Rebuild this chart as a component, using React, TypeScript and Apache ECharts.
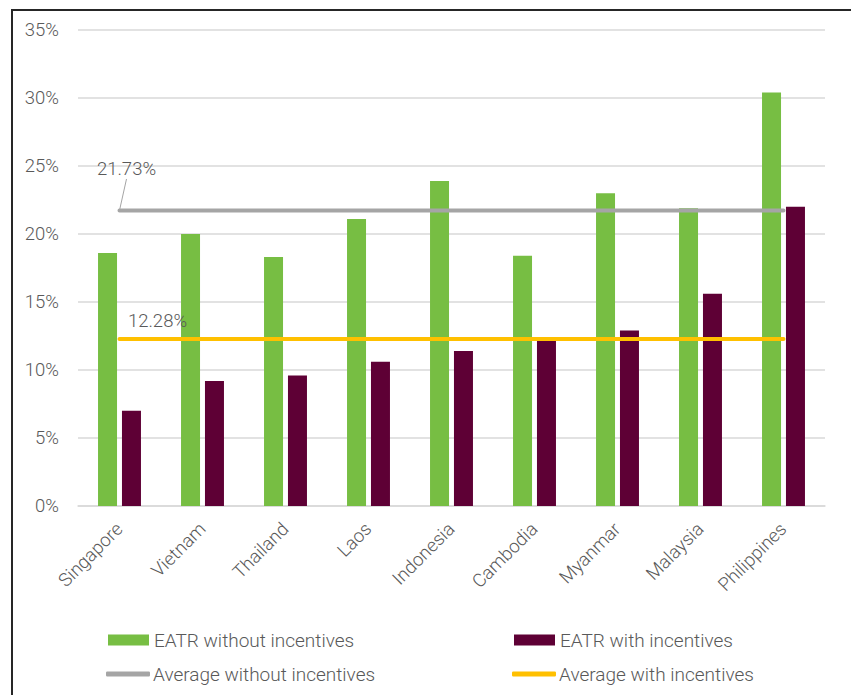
import React, { useEffect, useRef } from "react";
import * as echarts from "echarts";

const categories = ["Singapore", "Vietnam", "Thailand", "Laos", "Indonesia", "Cambodia", "Myanmar", "Malaysia", "Philippines"];
const eatrWithout = [18.6, 20.0, 18.3, 21.1, 23.9, 18.4, 23.0, 21.9, 30.4];
const eatrWith = [7.0, 9.2, 9.6, 10.6, 11.4, 12.2, 12.9, 15.6, 22.0];
const avgWithout = 21.73;
const avgWith = 12.28;
const yTicks = { min: 0, max: 35, interval: 5 };

const TXT = "#595959";
const FONT = "Roboto";
const FS = 18.5;
const FW = 300;

export default function App() {
  const ref = useRef<HTMLDivElement>(null);
  useEffect(() => {
    document.body.style.margin = "0";
    const chart = echarts.init(ref.current!, null, { renderer: "svg" });
    const avgLine = (name: string, v: number, color: string, layout: any, labelLine: boolean) => ({
      name,
      type: "line",
      data: categories.map((_, i) =>
        i === 0
          ? { value: v, label: { show: true, formatter: `${v.toFixed(2)}%` } }
          : v
      ),
      symbol: "circle",
      symbolSize: 1,
      z: 5,
      lineStyle: { color, width: 4, cap: "round" },
      itemStyle: { color },
      label: { show: false, position: "top", color: TXT, fontFamily: FONT, fontSize: FS, fontWeight: FW },
      labelLayout: layout,
      labelLine: { show: labelLine, lineStyle: { color: "#a5a5a5", width: 1 } },
    });
    const legend = (name: string, left: number, top: number, isLine: boolean) => ({
      orient: "horizontal",
      left: isLine ? left - 2 : left,
      top,
      padding: 0,
      itemWidth: isLine ? 44 : 41,
      itemHeight: isLine ? 5 : 11,
      icon: isLine ? "roundRect" : "rect",
      itemGap: 0,
      textStyle: { color: TXT, fontSize: 19, fontFamily: FONT, fontWeight: FW, lineHeight: 20, padding: isLine ? [0, 0, 0, -2] : 0 },
      data: [name],
    });
    chart.setOption({
      animation: false,
      textStyle: { fontFamily: FONT },
      graphic: [
        {
          type: "rect",
          shape: { x: 12, y: 10, width: 900, height: 800 },
          style: { fill: "none", stroke: "#262626", lineWidth: 2 },
          silent: true,
        },
      ],
      grid: { left: 78, right: 26, top: 30, bottom: 189 },
      legend: [
        legend("EATR without incentives", 108, 630, false),
        legend("Average without incentives", 108, 664, true),
        legend("EATR with incentives", 514, 630, false),
        legend("Average with incentives", 514, 664, true),
      ],
      xAxis: {
        type: "category",
        data: categories,
        axisLine: { lineStyle: { color: "#d9d9d9", width: 1.5 } },
        axisTick: { show: false },
        axisLabel: { rotate: 45, color: TXT, fontSize: FS, fontFamily: FONT, fontWeight: FW, margin: 20, interval: 0 },
      },
      yAxis: {
        type: "value",
        min: yTicks.min,
        max: yTicks.max,
        interval: yTicks.interval,
        axisLabel: { formatter: "{value}%", color: TXT, fontSize: FS, fontFamily: FONT, fontWeight: FW, margin: 19 },
        splitLine: { lineStyle: { color: "#d9d9d9", width: 1.5 } },
        axisLine: { show: false },
        axisTick: { show: false },
      },
      series: [
        {
          name: "EATR without incentives",
          type: "bar",
          data: eatrWithout,
          barWidth: 19,
          barGap: "26%",
          itemStyle: { color: "#77be43" },
        },
        {
          name: "EATR with incentives",
          type: "bar",
          data: eatrWith,
          barWidth: 19,
          barGap: "26%",
          itemStyle: { color: "#5e0035" },
        },
        avgLine("Average without incentives", avgWithout, "#a5a5a5", { dx: 7, dy: -26 }, true),
        avgLine("Average with incentives", avgWith, "#ffc000", { dx: 38, dy: -3 }, false),
      ],
    });
    return () => chart.dispose();
  }, []);
  return <div ref={ref} style={{ width: 851, height: 695 }} />;
}
